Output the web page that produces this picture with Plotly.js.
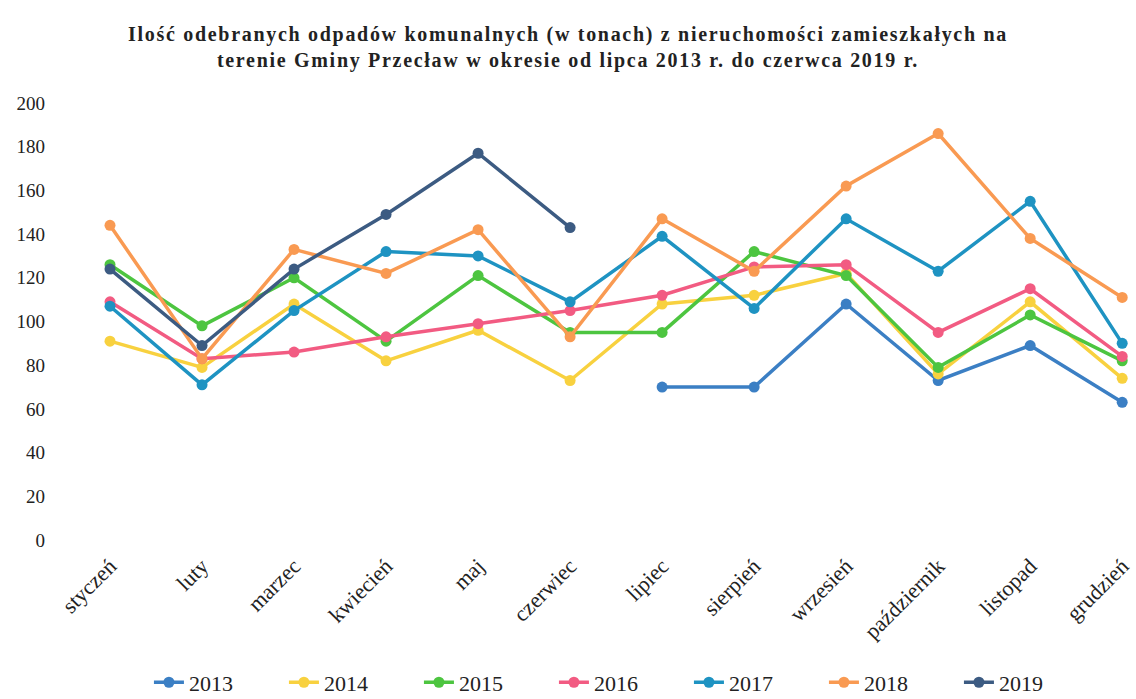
<!DOCTYPE html>
<html><head><meta charset="utf-8">
<script src="https://cdn.plot.ly/plotly-3.0.1.min.js"></script>
<style>body{margin:0;background:#fff}#chart{width:1136px;height:699px}
.gtitle{letter-spacing:1.7px}</style>
</head><body><div id="chart"></div>
<script>
const months = ["styczeń","luty","marzec","kwiecień","maj","czerwiec","lipiec","sierpień","wrzesień","październik","listopad","grudzień"];
const years = ["2013","2014","2015","2016","2017","2018","2019"];
const v2013 = [null,null,null,null,null,null,70,70,108,73,89,63];
const v2014 = [91,79,108,82,96,73,108,112,122,76,109,74];
const v2015 = [126,98,120,91,121,95,95,132,121,79,103,82];
const v2016 = [109,83,86,93,99,105,112,125,126,95,115,84];
const v2017 = [107,71,105,132,130,109,139,106,147,123,155,90];
const v2018 = [144,83,133,122,142,93,147,123,162,186,138,111];
const v2019 = [124,89,124,149,177,143,null,null,null,null,null,null];
const series = [v2013,v2014,v2015,v2016,v2017,v2018,v2019];
const colors = ["#3b7fc4","#f8d13f","#4dc540","#f25b82","#1e93c2","#f99a52","#3c5b82"];

const traces = series.map((s,i)=>({
  type:"scatter", mode:"lines+markers", name:years[i], x:months, y:s,
  connectgaps:false, cliponaxis:false,
  line:{color:colors[i], width:3.5},
  marker:{color:colors[i], size:11}
}));

const layout = {
  width:1136, height:699,
  margin:{l:64, r:0, t:103, b:159, autoexpand:false},
  paper_bgcolor:"#fff", plot_bgcolor:"#fff",
  font:{family:"Liberation Serif, Times New Roman, serif", color:"#222", size:18},
  title:{text:"<b>Ilość odebranych odpadów komunalnych (w tonach) z nieruchomości zamieszkałych na<br>terenie Gminy Przecław w okresie od lipca 2013 r. do czerwca 2019 r.</b>",
    x:0.5, xanchor:"center", xref:"container", yref:"container", y:0.941, yanchor:"middle",
    font:{family:"Liberation Serif, Times New Roman, serif", size:20, color:"#222"}},
  xaxis:{type:"category", range:[-0.5,11.15], tickangle:-45, showgrid:false, zeroline:false,
    showline:false, ticks:"", tickfont:{size:22}, ticklabelstandoff:8, automargin:false},
  yaxis:{range:[0,200], dtick:20, showgrid:false, zeroline:false, showline:false,
    ticks:"", tickfont:{size:19}, ticklabelstandoff:18, automargin:false},
  legend:{orientation:"h", x:0.52, xanchor:"center", y:-0.326, yanchor:"middle",
    font:{family:"Liberation Serif, Times New Roman, serif", size:22}, entrywidth:90, entrywidthmode:"pixels", tracegroupgap:0},
  showlegend:true
};
Plotly.newPlot("chart", traces, layout, {displayModeBar:false, staticPlot:true});
</script></body></html>
